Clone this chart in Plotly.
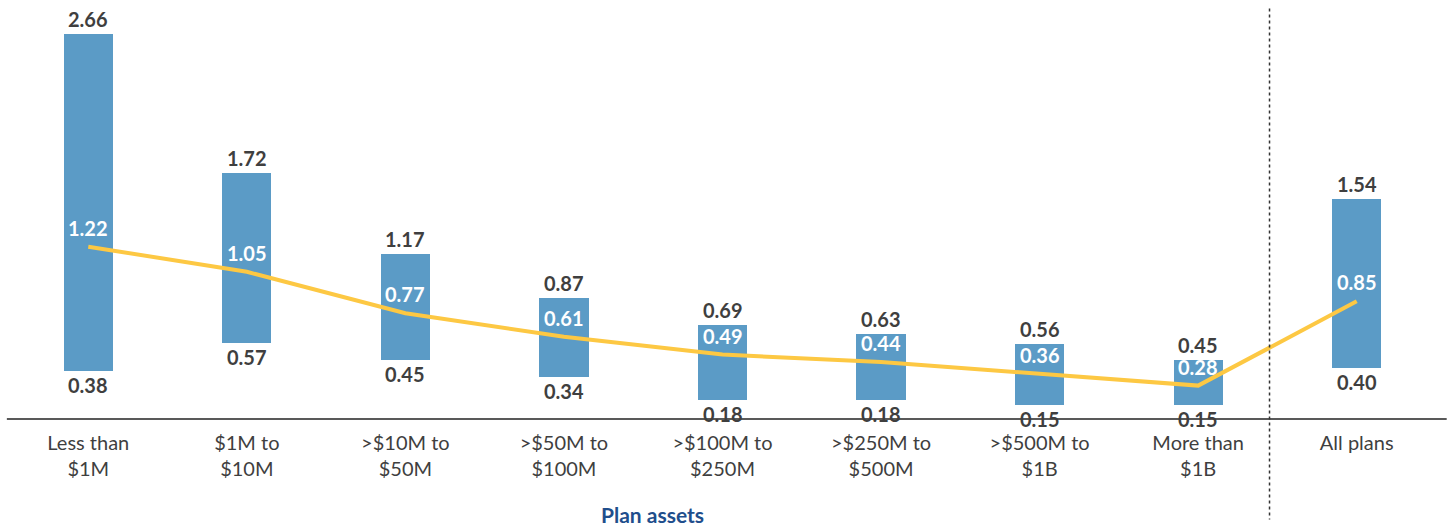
import plotly.graph_objects as go

categories = ["Less than<br>$1M", "$1M to<br>$10M", ">$10M to<br>$50M", ">$50M to<br>$100M",
              ">$100M to<br>$250M", ">$250M to<br>$500M", ">$500M to<br>$1B",
              "More than<br>$1B", "All plans"]
high = [2.66, 1.72, 1.17, 0.87, 0.69, 0.63, 0.56, 0.45, 1.54]
low = [0.38, 0.57, 0.45, 0.34, 0.18, 0.18, 0.15, 0.15, 0.40]
median = [1.22, 1.05, 0.77, 0.61, 0.49, 0.44, 0.36, 0.28, 0.85]

FONT = "Lato, Noto Sans, sans-serif"
BAR = "#5b9bc6"
LINE = "#fdc843"
DARK = "#3f3f3f"

x = list(range(len(categories)))

fig = go.Figure()
fig.add_trace(go.Bar(
    x=x, y=[h - l for h, l in zip(high, low)], base=low,
    width=0.31, marker=dict(color=BAR, line=dict(width=0)),
    hoverinfo="skip", showlegend=False,
))
fig.add_trace(go.Scatter(
    x=x, y=median, mode="lines",
    line=dict(color=LINE, width=4),
    hoverinfo="skip", showlegend=False,
))

ann = []
for i in x:
    ann.append(dict(x=i, y=high[i], text=f"<b>{high[i]:.2f}</b>", showarrow=False,
                    yanchor="middle", yshift=15, font=dict(size=20, color=DARK, family=FONT)))
    ann.append(dict(x=i, y=low[i], text=f"<b>{low[i]:.2f}</b>", showarrow=False,
                    yanchor="middle", yshift=-14, font=dict(size=20, color=DARK, family=FONT)))
    ann.append(dict(x=i, y=median[i], text=f"<b>{median[i]:.2f}</b>", showarrow=False,
                    yanchor="middle", yshift=19, font=dict(size=20, color="white", family=FONT)))
ann.append(dict(x=3.56, xref="x", y=-0.229, yref="paper", text="<b>Plan assets</b>",
                showarrow=False, yanchor="middle",
                font=dict(size=21, color="#1f4e8c", family=FONT)))

fig.update_layout(
    width=1452, height=529,
    margin=dict(l=9, r=16, t=0, b=110),
    paper_bgcolor="white", plot_bgcolor="white",
    font=dict(family=FONT, color=DARK),
    annotations=ann,
    bargap=0,
    shapes=[
        dict(type="line", xref="paper", yref="paper", x0=-0.0015, x1=1.0075, y0=0, y1=0,
             line=dict(color="#595959", width=2)),
        dict(type="line", xref="x", yref="paper", x0=7.45, x1=7.45, y0=0.98, y1=-0.24,
             line=dict(color="#333333", width=1.5, dash="dot")),
    ],
)
fig.update_xaxes(range=[-0.5, 8.5], tickmode="array", tickvals=x, ticktext=categories,
                 showgrid=False, zeroline=False, showline=False, ticks="",
                 ticklabelstandoff=10,
                 tickfont=dict(size=20, color=DARK, family=FONT))
fig.update_yaxes(range=[0.054, 2.889], visible=False, showgrid=False, zeroline=False)

fig.write_html("out.html")
